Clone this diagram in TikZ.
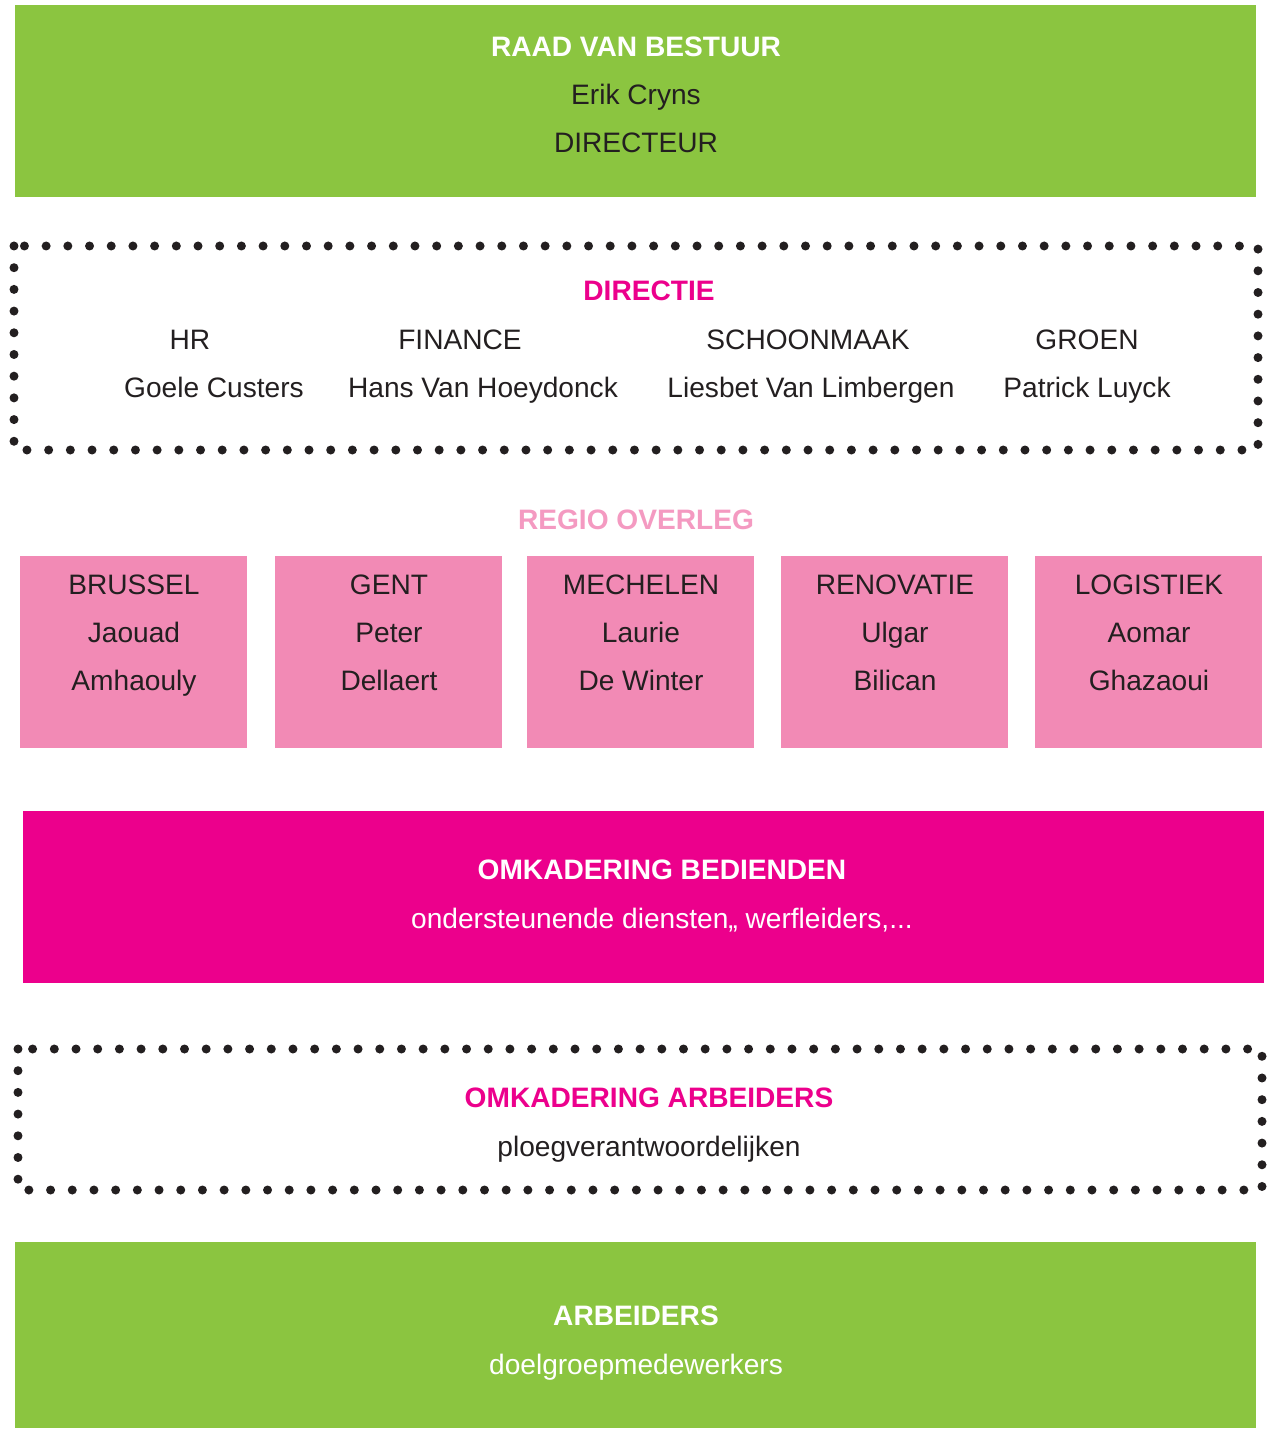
\documentclass[tikz,border=0pt]{standalone}
\usepackage{fontspec}
\setmainfont{Liberation Sans}
\definecolor{groen}{HTML}{8BC540}
\definecolor{roze}{HTML}{F28AB5}
\definecolor{fuchsia}{HTML}{EC008C}
\definecolor{lichtroze}{HTML}{F49AC1}
\definecolor{inkt}{HTML}{231F20}
\begin{document}
\begin{tikzpicture}[x=0.02cm,y=-0.02cm,
  txt/.style={anchor=base,inner sep=0pt,text=inkt,font=\fontsize{16}{19}\selectfont},
  titel/.style={txt,font=\fontsize{16}{19}\selectfont\bfseries},
  stippel/.style={line width=0.18cm,inkt,dash pattern=on 0pt off 0.434cm,line cap=round}]
\useasboundingbox (0,0) rectangle (1271,1429);

% Raad van bestuur
\fill[groen] (15,5) rectangle (1256,197);
\node[titel,text=white] (raad) at (636,57) {RAAD VAN BESTUUR};
\node[txt] (erik) at (636,105) {Erik Cryns};
\node[txt] (dir) at (636,153) {DIRECTEUR};

% Directie
\draw[stippel] (14,246) rectangle (1258,450);
\node[titel,text=fuchsia] (directie) at (649,300) {DIRECTIE};
\node[txt] (hr) at (190,349) {HR};
\node[txt] (goele) at (214,397) {Goele Custers};
\node[txt] (fin) at (460,349) {FINANCE};
\node[txt] (hans) at (483,397) {Hans Van Hoeydonck};
\node[txt] (schoon) at (808,349) {SCHOONMAAK};
\node[txt] (liesbet) at (811,397) {Liesbet Van Limbergen};
\node[txt] (groen) at (1087,349) {GROEN};
\node[txt] (patrick) at (1087,397) {Patrick Luyck};

% Regio overleg
\node[titel,text=lichtroze] (regio) at (636,529) {REGIO OVERLEG};
\foreach \x/\a/\b/\c [count=\i] in {20/BRUSSEL/Jaouad/Amhaouly,
    275/GENT/Peter/Dellaert, 527/MECHELEN/Laurie/De Winter,
    781/RENOVATIE/Ulgar/Bilican, 1035/LOGISTIEK/Aomar/Ghazaoui}{
  \fill[roze] (\x,556) rectangle ++(227,192);
  \node[txt] (regio\i-a) at (\x+114,594) {\a};
  \node[txt] (regio\i-b) at (\x+114,642) {\b};
  \node[txt] (regio\i-c) at (\x+114,690) {\c};
}

% Omkadering bedienden
\fill[fuchsia] (23,811) rectangle (1264,983);
\node[titel,text=white] (bed) at (662,879) {OMKADERING BEDIENDEN};
\node[txt,text=white] (bedsub) at (662,928) {ondersteunende diensten,, werfleiders,...};

% Omkadering arbeiders
\draw[stippel] (18,1049) rectangle (1262,1190);
\node[titel,text=fuchsia] (arb) at (649,1107) {OMKADERING ARBEIDERS};
\node[txt] (arbsub) at (649,1156) {ploegverantwoordelijken};

% Arbeiders
\fill[groen] (15,1242) rectangle (1256,1428);
\node[titel,text=white] (arbeiders) at (636,1325) {ARBEIDERS};
\node[txt,text=white] (doel) at (636,1374) {doelgroepmedewerkers};

\end{tikzpicture}
\end{document}
